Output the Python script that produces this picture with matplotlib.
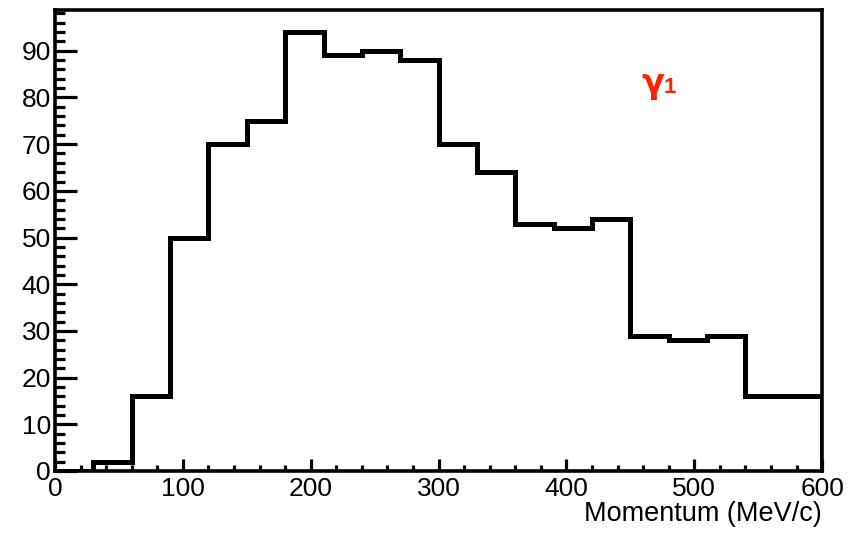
import matplotlib
matplotlib.use("Agg")
import matplotlib.pyplot as plt
from matplotlib.ticker import MultipleLocator

# bin edges (MeV/c) and counts
bin_edges = [0, 30, 60, 90, 120, 150, 180, 210, 240, 270, 300,
             330, 360, 390, 420, 450, 480, 510, 540, 570, 600]
counts = [0, 2, 16, 50, 70, 75, 94, 89, 90, 88,
          70, 64, 53, 52, 54, 29, 28, 29, 16, 16]

x_label = "Momentum (MeV/c)"
tag_main = "\u03b3"
tag_sub = "1"

plt.rcParams["font.family"] = ["Liberation Sans", "DejaVu Sans"]

fig = plt.figure(figsize=(8.5, 5.34), dpi=100)
ax = fig.add_axes([0.0647, 0.118, 0.9026, 0.863])

ax.stairs(counts, bin_edges, baseline=0, color="black", linewidth=3.6,
          fill=False, joinstyle="miter")

ax.set_xlim(0, 600)
ax.set_ylim(0, 98.7)

ax.xaxis.set_major_locator(MultipleLocator(100))
ax.xaxis.set_minor_locator(MultipleLocator(20))
ax.yaxis.set_major_locator(MultipleLocator(10))
ax.yaxis.set_minor_locator(MultipleLocator(2))

ax.tick_params(axis="both", which="both", direction="in", top=False, right=False,
               width=2.3, colors="black", labelsize=19)
ax.tick_params(axis="y", which="major", length=15.8, pad=3)
ax.tick_params(axis="y", which="minor", length=7.2)
ax.tick_params(axis="x", which="major", length=8.6, pad=4)
ax.tick_params(axis="x", which="minor", length=4)

for spine in ax.spines.values():
    spine.set_linewidth(2.6)

ax.set_xlabel(x_label, fontsize=19.5, loc="right", labelpad=0)

ax.text(459, 81, tag_main, color="#ff2200", fontsize=24, fontweight="bold",
        family=["DejaVu Sans"], va="baseline", ha="left")
ax.text(476, 81, tag_sub, color="#ff2200", fontsize=16, fontweight="bold",
        va="baseline", ha="left")

fig.savefig("out.png", dpi=100)
